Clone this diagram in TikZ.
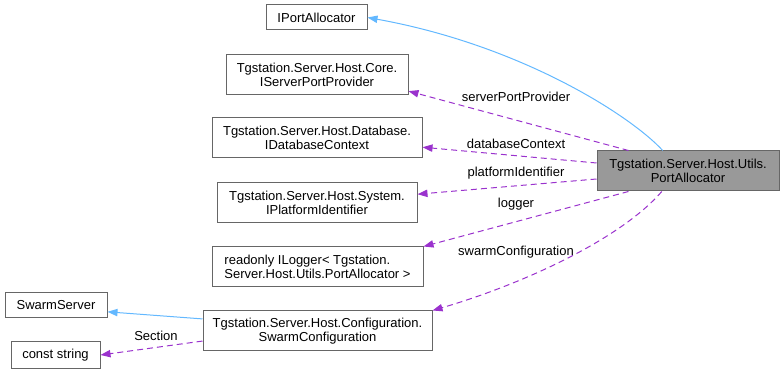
\documentclass[tikz,border=0pt]{standalone}
\usepackage{fontspec}
\setmainfont{Liberation Sans}
\usetikzlibrary{arrows.meta}
\definecolor{inherit}{HTML}{63B8FF}
\definecolor{usage}{HTML}{9A32CD}
\definecolor{boxline}{HTML}{666666}

\begin{document}
\begin{tikzpicture}[x=0.75pt,y=-0.75pt,
	font=\fontsize{9.75}{10.5}\selectfont,
	cls/.style={draw=boxline, line width=0.75pt, inner sep=0pt, align=center},
	base/.style={inherit, line width=0.75pt, -{Triangle[length=7.5pt,width=5.5pt]}},
	member/.style={usage, line width=0.75pt, dash pattern=on 4.5pt off 3pt, -{Triangle[length=7.5pt,width=5.5pt]}},
	lbl/.style={inner sep=0pt}]
	\useasboundingbox (0,0) rectangle (784,373);
	% classes
	\node[cls, minimum width=101*0.75pt, minimum height=25*0.75pt] (ipa) at (316.5,17.5) {IPortAllocator};
	\node[cls, minimum width=182*0.75pt, minimum height=40*0.75pt] (sp) at (317,75) {Tgstation.Server.Host.Core.\\IServerPortProvider};
	\node[cls, minimum width=210*0.75pt, minimum height=40*0.75pt] (db) at (317,138) {Tgstation.Server.Host.Database.\\IDatabaseContext};
	\node[cls, minimum width=200*0.75pt, minimum height=40*0.75pt] (pi) at (317,203) {Tgstation.Server.Host.System.\\IPlatformIdentifier};
	\node[cls, align=left, minimum width=211*0.75pt, minimum height=40*0.75pt] (lg) at (317.5,267) {readonly ILogger< Tgstation.\\Server.Host.Utils.PortAllocator >};
	\node[cls, minimum width=102*0.75pt, minimum height=25*0.75pt] (ss) at (56,305.5) {SwarmServer};
	\node[cls, minimum width=229*0.75pt, minimum height=40*0.75pt] (sc) at (317.5,331) {Tgstation.Server.Host.Configuration.\\SwarmConfiguration};
	\node[cls, minimum width=89*0.75pt, minimum height=26*0.75pt] (cs) at (55.5,355) {const string};
	\node[cls, fill=black!40, minimum width=182*0.75pt, minimum height=40*0.75pt] (pa) at (688,171) {Tgstation.Server.Host.Utils.\\PortAllocator};

	% inheritance
	\draw[base] (pa.141) .. controls (630,115) and (520,45) .. (ipa.east);
	\draw[base] (sc.174) -- (ss.-7);

	% members
	\draw[member] (pa.161) -- (sp.-10);
	\draw[member] (pa.175) -- (db.-5);
	\draw[member] (pa.185) -- (pi.5);
	\draw[member] (pa.199) -- (lg.north east);
	\draw[member] (pa.218) .. controls (620,240) and (520,285) .. (sc.north east);
	\draw[member] (sc.185) -- (cs.east);

	\node[lbl] (l1) at (516,97) {serverPortProvider};
	\node[lbl] (l2) at (516,144) {databaseContext};
	\node[lbl] (l3) at (516,173) {platformIdentifier};
	\node[lbl] (l4) at (516,204) {logger};
	\node[lbl] (l5) at (516,252) {swarmConfiguration};
	\node[lbl] (l6) at (156,336) {Section};
\end{tikzpicture}
\end{document}
